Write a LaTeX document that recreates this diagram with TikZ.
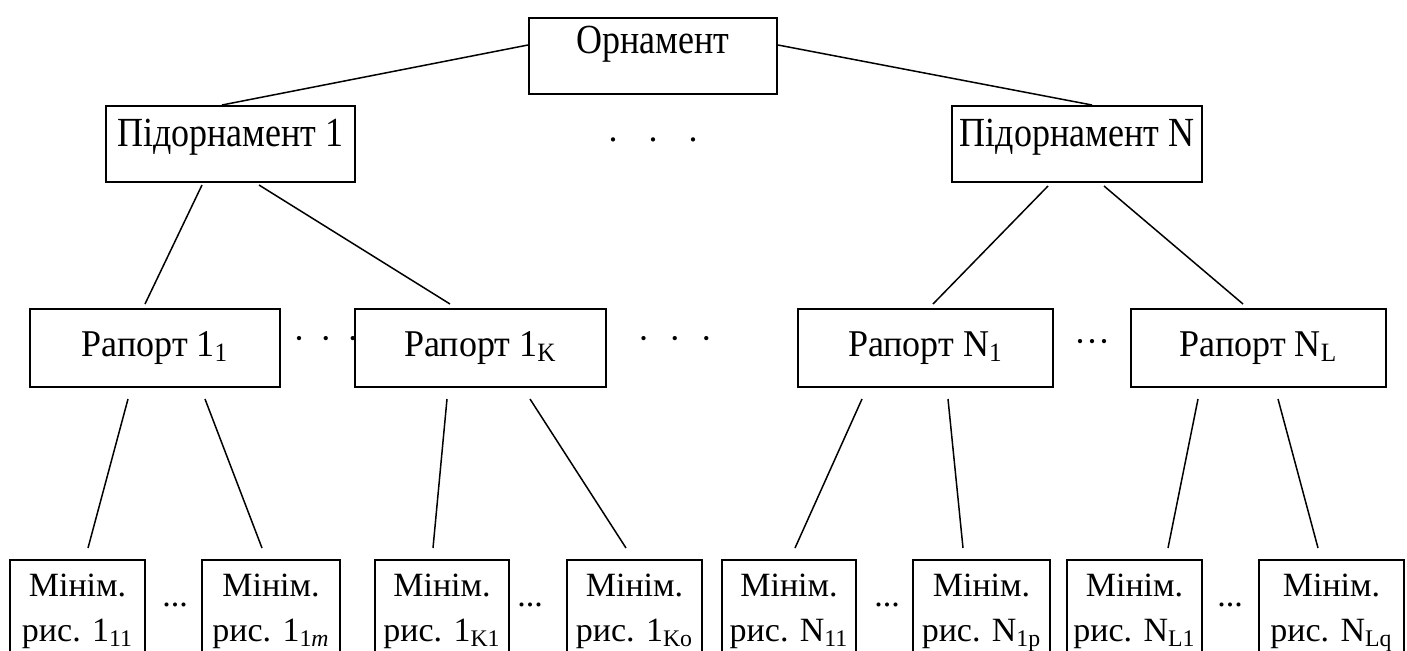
\documentclass[tikz,border=0pt]{standalone}
\usepackage{fontspec}
\usepackage{graphicx}
\setmainfont{Liberation Serif}
\usetikzlibrary{calc}
\newcommand\tallt[1]{\scalebox{1}[1.15]{#1}}
\newcommand\tallr[1]{\scalebox{1}[1.05]{#1}}
\begin{document}
\begin{tikzpicture}[x=0.5pt,y=-0.5pt,
  box/.style={draw, line width=1pt, inner sep=0pt, anchor=north, font=\fontsize{18}{21}\selectfont},
  lvlA/.style={box, text height=17.5pt, text depth=20.5pt},
  lvlB/.style={box, text height=20pt, text depth=18pt},
  lvlC/.style={box, text height=23.5pt, text depth=15.5pt},
  leaf/.style={draw, line width=1pt, inner sep=0pt, anchor=north, align=center, font=\fontsize{17}{22.5}\selectfont},
  link/.style={line width=0.75pt},
  dotsA/.style={anchor=base, inner sep=0pt, font=\fontsize{18}{21}\selectfont},
  dotsB/.style={anchor=base, inner sep=0pt, font=\fontsize{17}{25}\selectfont}]
\useasboundingbox (0,0) rectangle (1407,650);
\clip (0,0) rectangle (1407,650);
% level 1
\node[lvlA, minimum width=124pt] (orn) at (653,17) {\tallt{Орнамент}};
% level 2
\node[lvlB, minimum width=124.5pt] (p1) at (230.5,105) {\tallt{Підорнамент 1}};
\node[lvlB, minimum width=125pt] (pN) at (1077,105) {\tallt{Підорнамент N}};
\node[dotsA] (dtop) at (653,141) {.\hspace{15.5pt}.\hspace{15.5pt}.};
% level 3
\node[lvlC, minimum width=125pt] (r11) at (155,308) {\tallr{Рапорт 1\textsubscript{1}}};
\node[lvlC, minimum width=125.5pt] (r1K) at (480.5,308) {\tallr{Рапорт 1\textsubscript{K}}};
\node[lvlC, minimum width=127.5pt] (rN1) at (925.5,308) {\tallr{Рапорт N\textsubscript{1}}};
\node[lvlC, minimum width=127.5pt] (rNL) at (1258.5,308) {\tallr{Рапорт N\textsubscript{L}}};
\node[dotsA] (dA) at (326,350) {·\hspace{7.5pt}·\hspace{7.5pt}·};
\node[dotsA] (dB) at (675,350) {·\hspace{9.75pt}·\hspace{9.75pt}·};
\node[dotsA] (dC) at (1092,353) {···};
% level 4
\node[leaf, minimum width=67.5pt] (m1) at (77.5,559) {\rule{0pt}{18pt}Мінім.\\рис. 1\textsubscript{11}\rule[-40pt]{0pt}{40pt}};
\node[leaf, minimum width=69pt] (m2) at (271,559) {\rule{0pt}{18pt}Мінім.\\рис. 1\textsubscript{1\textit{m}}\rule[-40pt]{0pt}{40pt}};
\node[leaf, minimum width=67pt] (m3) at (442,559) {\rule{0pt}{18pt}Мінім.\\рис. 1\textsubscript{K1}\rule[-40pt]{0pt}{40pt}};
\node[leaf, minimum width=67.5pt] (m4) at (634.5,559) {\rule{0pt}{18pt}Мінім.\\рис. 1\textsubscript{Ko}\rule[-40pt]{0pt}{40pt}};
\node[leaf, minimum width=67pt] (m5) at (789,559) {\rule{0pt}{18pt}Мінім.\\рис. N\textsubscript{11}\rule[-40pt]{0pt}{40pt}};
\node[leaf, minimum width=68.5pt] (m6) at (981.5,559) {\rule{0pt}{18pt}Мінім.\\рис. N\textsubscript{1p}\rule[-40pt]{0pt}{40pt}};
\node[leaf, minimum width=67.5pt] (m7) at (1134.5,559) {\rule{0pt}{18pt}Мінім.\\рис. N\textsubscript{L1}\rule[-40pt]{0pt}{40pt}};
\node[leaf, minimum width=72.5pt] (m8) at (1331.5,559) {\rule{0pt}{18pt}Мінім.\\рис. N\textsubscript{Lq}\rule[-40pt]{0pt}{40pt}};
\node[dotsB] (e1) at (175,606) {...};
\node[dotsB] (e2) at (530,606) {...};
\node[dotsB] (e3) at (887,606) {...};
\node[dotsB] (e4) at (1230,606) {...};
% connectors level 1-2
\draw[link] ($(orn.north west)+(0,28)$) -- ($(p1.north)+(-8.5,0)$);
\draw[link] ($(orn.north east)+(0,28)$) -- ($(pN.north)+(15,0)$);
% level 2-3
\draw[link] ($(p1.south)+(-28.5,2)$) -- ($(r11.north)+(-10,-4)$);
\draw[link] ($(p1.south)+(28.5,2)$) -- ($(r1K.north)+(-30.5,-4)$);
\draw[link] ($(pN.south)+(-29,3)$) -- ($(rN1.north)+(7.5,-4)$);
\draw[link] ($(pN.south)+(27,3)$) -- ($(rNL.north)+(-15.5,-4)$);
% level 3-4
\draw[link] ($(r11.south)+(-27,11)$) -- ($(m1.north)+(10.5,-11)$);
\draw[link] ($(r11.south)+(50,11)$) -- ($(m2.north)+(-9,-11)$);
\draw[link] ($(r1K.south)+(-33.5,11)$) -- ($(m3.north)+(-9,-11)$);
\draw[link] ($(r1K.south)+(49.5,11)$) -- ($(m4.north)+(-8.5,-11)$);
\draw[link] ($(rN1.south)+(-63.5,11)$) -- ($(m5.north)+(6,-11)$);
\draw[link] ($(rN1.south)+(22.5,11)$) -- ($(m6.north)+(-18.5,-11)$);
\draw[link] ($(rNL.south)+(-60.5,11)$) -- ($(m7.north)+(33.5,-11)$);
\draw[link] ($(rNL.south)+(19.5,11)$) -- ($(m8.north)+(-13.5,-11)$);
\end{tikzpicture}
\end{document}
